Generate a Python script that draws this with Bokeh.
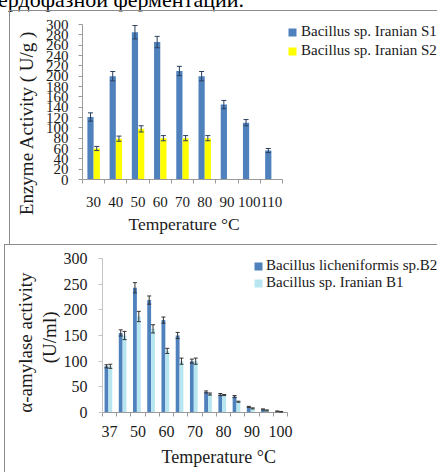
import numpy as np
from bokeh.plotting import figure
from bokeh.models import (ColumnDataSource, Whisker, Legend, LegendItem, FixedTicker,
                          Range1d, TeeHead, Title, Div)
from bokeh.transform import dodge
from bokeh.layouts import column
from bokeh.embed import file_html
from bokeh.resources import INLINE

# ---------------- data: top chart ----------------
temps_top = ["30", "40", "50", "60", "70", "80", "90", "100", "110"]
s1_vals = [121, 200, 285, 266, 210, 200, 145, 110, 56]
s1_err = [8, 9, 13, 11, 9, 9, 8, 6, 4]
s2_vals = [60, 79, 98, 80, 80, 80]          # S2 measured only 30..80
s2_err = [4, 5, 6, 5, 5, 5]
y_ticks_top = list(range(0, 301, 20))

# ---------------- data: bottom chart ----------------
temps_bot = ["37", "45", "50", "55", "60", "65", "70", "75", "80", "85", "90", "95", "100"]
b2_vals = [90, 155, 243, 219, 180, 150, 100, 40, 35, 31, 11, 6, 2]
b2_err = [3, 6, 10, 8, 6, 6, 4, 2, 2, 2, 1, 1, 1]
b1_vals = [90, 150, 187, 163, 120, 100, 100, 36, 34, 21, 8, 4, 1]
b1_err = [4, 8, 10, 8, 5, 6, 6, 2, 1, 1, 1, 1, 1]
shown_bot = ["37", "50", "60", "70", "80", "90", "100"]
y_ticks_bot = list(range(0, 301, 50))
Y_MAX = 300

FONT = "Liberation Serif, serif"
TXT = "#1a1a1a"
AX = "#9a9a9a"
BLUE = "#4F81BD"
YELLOW = "#FFFF00"
CYAN = "#B7E6F1"
BOX = "#8c8c8c"


def style_axes(p, ylab_size, xlab_size, ystand, xstand, yaxis_color):
    p.xgrid.visible = False
    p.ygrid.visible = False
    p.outline_line_color = None
    p.background_fill_color = "white"
    p.border_fill_color = "white"
    for ax in p.xaxis:
        ax.axis_line_color = AX
        ax.major_tick_out = 0
        ax.major_tick_in = 0
        ax.minor_tick_out = 4
        ax.minor_tick_in = 0
        ax.minor_tick_line_color = AX
        ax.major_label_text_font = FONT
        ax.major_label_text_font_size = f"{xlab_size}px"
        ax.major_label_text_color = TXT
        ax.major_label_standoff = xstand
    for ax in p.yaxis:
        ax.axis_line_color = yaxis_color
        ax.major_tick_line_color = yaxis_color
        ax.major_tick_out = 4
        ax.major_tick_in = 0
        ax.minor_tick_line_color = None
        ax.major_label_text_font = FONT
        ax.major_label_text_font_size = f"{ylab_size}px"
        ax.major_label_text_color = TXT
        ax.major_label_standoff = ystand


def add_title(p, text, side, size, align="center", offset=0, standoff=0, valign="bottom"):
    p.add_layout(Title(text=text, align=align, offset=offset, standoff=standoff,
                       vertical_align=valign,
                       text_font=FONT, text_font_size=f"{size}px",
                       text_font_style="normal", text_color=TXT), side)


# ================= TOP FIGURE (canvas origin at window x=10, y=11) =================
OX1, OY1 = 10, 11
W1, H1 = 438 - OX1, 245 - OY1
FL1, FT1, FB1 = 82, 24, 179          # window px of plot area: left, y=300, y=0
cat_px1 = 200 / len(temps_top)
frame_w1 = 438 - FL1
frame_h1 = FB1 - OY1
p1 = figure(width=W1, height=H1,
            x_range=Range1d(0, frame_w1 / cat_px1),
            y_range=Range1d(0, Y_MAX * frame_h1 / (FB1 - FT1)),
            output_backend="svg", toolbar_location=None, frame_align=False,
            min_border_left=FL1 - OX1, min_border_right=0, min_border_top=0,
            min_border_bottom=H1 - frame_h1,
            margin=(0, 0, 0, 9),
            styles={"border-left": f"1px solid {BOX}", "border-top": f"1px solid {BOX}"})

xs_top = np.arange(len(temps_top)) + 0.5
src_s1 = ColumnDataSource(dict(x=xs_top, top=s1_vals,
                               upper=np.array(s1_vals) + np.array(s1_err),
                               lower=np.array(s1_vals) - np.array(s1_err)))
src_s2 = ColumnDataSource(dict(x=xs_top[:len(s2_vals)], top=s2_vals,
                               upper=np.array(s2_vals) + np.array(s2_err),
                               lower=np.array(s2_vals) - np.array(s2_err)))
r_s1 = p1.vbar(x=dodge("x", -0.14, range=p1.x_range), top="top", width=0.28,
               source=src_s1, fill_color=BLUE, line_color=None)
r_s2 = p1.vbar(x=dodge("x", 0.14, range=p1.x_range), top="top", width=0.28,
               source=src_s2, fill_color=YELLOW, line_color=None)
for src, off in ((src_s1, -0.14), (src_s2, 0.14)):
    p1.add_layout(Whisker(base=dodge("x", off, range=p1.x_range), upper="upper", lower="lower",
                          source=src, line_color="#2a3f5f", line_width=1, level="overlay",
                          upper_head=TeeHead(size=5, line_color="#2a3f5f", line_width=1),
                          lower_head=TeeHead(size=5, line_color="#2a3f5f", line_width=1)))

p1.xaxis.ticker = FixedTicker(ticks=list(xs_top), minor_ticks=list(range(len(temps_top) + 1)))
p1.xaxis.major_label_overrides = {float(x): t for x, t in zip(xs_top, temps_top)}
p1.xaxis.bounds = (0, len(temps_top))
p1.yaxis.ticker = FixedTicker(ticks=y_ticks_top)
p1.yaxis.bounds = (0, Y_MAX)
style_axes(p1, 15, 15, 10, 13, AX)

leg1 = Legend(items=[LegendItem(label="Bacillus sp. Iranian S1", renderers=[r_s1]),
                     LegendItem(label="Bacillus sp. Iranian S2", renderers=[r_s2])],
              location=(287 - FL1, FB1 - 59), padding=0, margin=0, spacing=2,
              glyph_width=10, glyph_height=10, label_standoff=4,
              label_text_font=FONT, label_text_font_size="15px", label_text_color=TXT,
              border_line_color=None, background_fill_alpha=0)
p1.add_layout(leg1)

add_title(p1, "Enzyme Activity ( U/g )", "left", 19, align="right", offset=30 - OY1,
          standoff=8, valign="top")
add_title(p1, "Temperature °C", "below", 17.5, align="left", offset=128 - FL1, standoff=4)

# ================= BOTTOM FIGURE (canvas origin at window x=5, y=246) =================
OX2, OY2 = 5, 246
W2, H2 = 438 - OX2, 474 - OY2
FL2, FT2, FB2 = 102, 259, 413
cat_px2 = 185 / len(temps_bot)
frame_w2 = 438 - FL2
frame_h2 = FB2 - OY2
p2 = figure(width=W2, height=H2,
            x_range=Range1d(0, frame_w2 / cat_px2),
            y_range=Range1d(0, Y_MAX * frame_h2 / (FB2 - FT2)),
            output_backend="svg", toolbar_location=None, frame_align=False,
            min_border_left=FL2 - OX2, min_border_right=0, min_border_top=0,
            min_border_bottom=H2 - frame_h2,
            margin=(0, 0, 0, 4),
            styles={"border-left": f"1px solid {BOX}", "border-top": f"1px solid {BOX}"})

xs_bot = np.arange(len(temps_bot)) + 0.5
src_b2 = ColumnDataSource(dict(x=xs_bot, top=b2_vals,
                               upper=np.array(b2_vals) + np.array(b2_err),
                               lower=np.array(b2_vals) - np.array(b2_err)))
src_b1 = ColumnDataSource(dict(x=xs_bot, top=b1_vals,
                               upper=np.array(b1_vals) + np.array(b1_err),
                               lower=np.array(b1_vals) - np.array(b1_err)))
r_b2 = p2.vbar(x=dodge("x", -0.22, range=p2.x_range), top="top", width=0.27,
               source=src_b2, fill_color=BLUE, line_color=None)
r_b1 = p2.vbar(x=dodge("x", 0.05, range=p2.x_range), top="top", width=0.27,
               source=src_b1, fill_color=CYAN, line_color=None)
for src, off in ((src_b2, -0.22), (src_b1, 0.05)):
    p2.add_layout(Whisker(base=dodge("x", off, range=p2.x_range), upper="upper", lower="lower",
                          source=src, line_color="#333333", line_width=1, level="overlay",
                          upper_head=TeeHead(size=4, line_color="#333333", line_width=1),
                          lower_head=TeeHead(size=4, line_color="#333333", line_width=1)))

p2.xaxis.ticker = FixedTicker(ticks=[float(x) for x, t in zip(xs_bot, temps_bot) if t in shown_bot],
                              minor_ticks=list(range(len(temps_bot) + 1)))
p2.xaxis.major_label_overrides = {float(x): t for x, t in zip(xs_bot, temps_bot)}
p2.xaxis.bounds = (0, len(temps_bot))
p2.yaxis.ticker = FixedTicker(ticks=y_ticks_bot)
p2.yaxis.bounds = (0, Y_MAX)
style_axes(p2, 16, 16, 11, 9, "#c4c4c4")

leg2 = Legend(items=[LegendItem(label="Bacillus licheniformis sp.B2", renderers=[r_b2]),
                     LegendItem(label="Bacillus sp. Iranian B1", renderers=[r_b1])],
              location=(253 - FL2, FB2 - 292), padding=0, margin=0, spacing=0,
              glyph_width=10, glyph_height=10, label_standoff=3,
              label_text_font=FONT, label_text_font_size="15px", label_text_color=TXT,
              border_line_color=None, background_fill_alpha=0)
p2.add_layout(leg2)

add_title(p2, "(U/ml)", "left", 19, align="right", offset=312 - OY2, standoff=2)
add_title(p2, "α-amylase activity", "left", 19, align="right", offset=273 - OY2, standoff=0)
add_title(p2, "Temperature °C", "below", 18, align="left", offset=161 - FL2, standoff=11)

head = Div(text=('<div style="font-family: \'Liberation Serif\', serif; font-size: 22px; '
                 'line-height: 20px; white-space: nowrap; color: #000; margin-left: -2px;">'
                 'ердофазной ферментации.</div>'),
           width=438, height=20, margin=(-10, 0, 0, 0))

layout = column(head, p1, p2, spacing=0, margin=0)
open("out.html", "w").write(file_html(layout, INLINE))
